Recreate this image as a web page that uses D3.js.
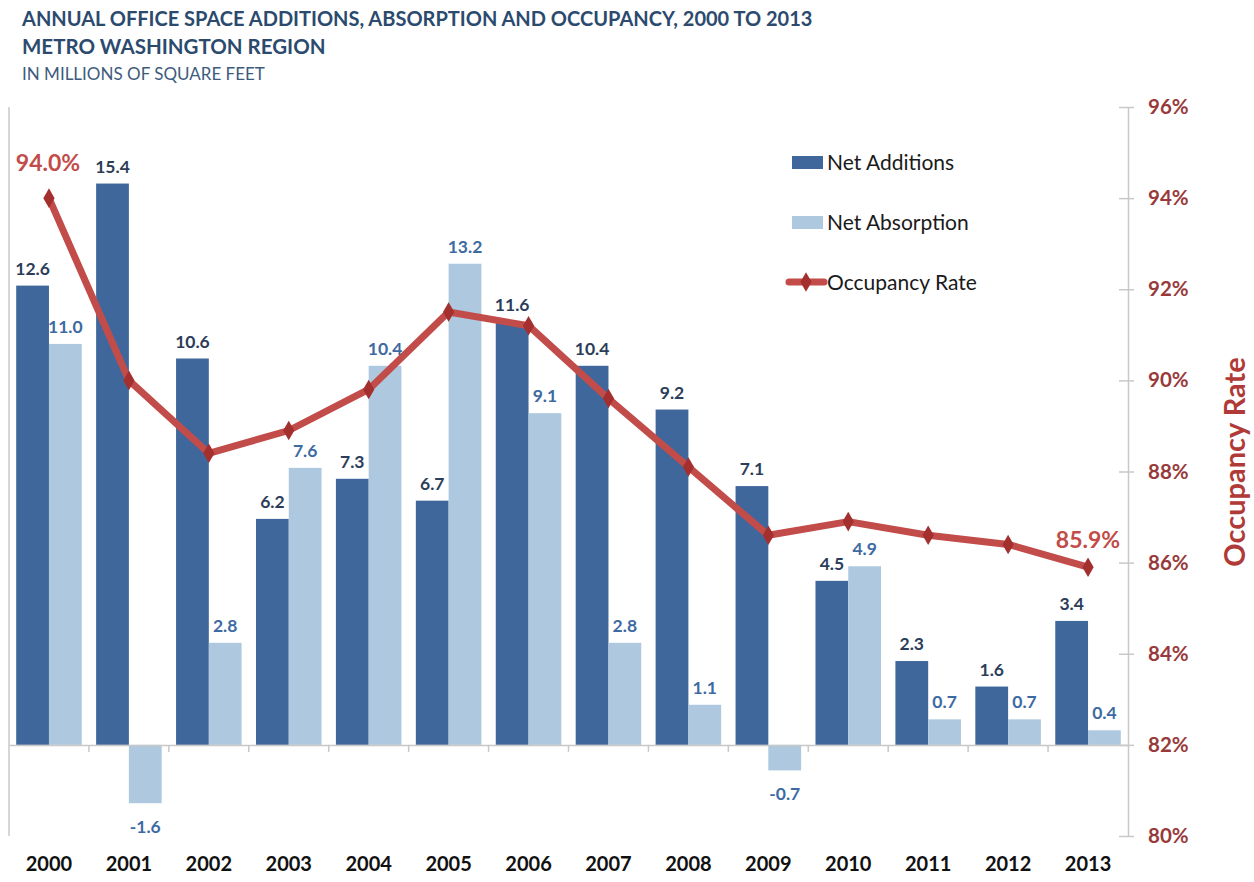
<!DOCTYPE html>
<html>
<head>
<meta charset="utf-8">
<script src="https://cdn.jsdelivr.net/npm/d3@7"></script>
<style>
  body { margin: 0; background: #fff; }
  text { font-family: Lato, "Open Sans", sans-serif; }
</style>
</head>
<body>
<div id="chart"></div>
<script>
// data
var years = ["2000", "2001", "2002", "2003", "2004", "2005", "2006", "2007", "2008", "2009", "2010", "2011", "2012", "2013"];
var netAdditions = [12.6, 15.4, 10.6, 6.2, 7.3, 6.7, 11.6, 10.4, 9.2, 7.1, 4.5, 2.3, 1.6, 3.4];
var netAbsorption = [11.0, -1.6, 2.8, 7.6, 10.4, 13.2, 9.1, 2.8, 1.1, -0.7, 4.9, 0.7, 0.7, 0.4];
var occupancy = [94.0, 90.0, 88.4, 88.9, 89.8, 91.5, 91.2, 89.6, 88.1, 86.6, 86.9, 86.6, 86.4, 85.9];
var rateTicks = [80, 82, 84, 86, 88, 90, 92, 94, 96];

var svgWidth = 1254;
var svgHeight = 882;
var plot = { left: 9, right: 1128, top: 107, bottom: 836 };

var svg = d3.select("#chart")
    .append("svg")
    .attr("width", svgWidth)
    .attr("height", svgHeight);

// titles
svg.append("text")
    .attr("x", 22).attr("y", 26)
    .attr("font-size", "20px").attr("font-weight", "bold")
    .attr("fill", "#2b4a6e")
    .text("ANNUAL OFFICE SPACE ADDITIONS, ABSORPTION AND OCCUPANCY, 2000 TO 2013");
svg.append("text")
    .attr("x", 22).attr("y", 54)
    .attr("font-size", "20.5px").attr("font-weight", "bold")
    .attr("fill", "#2b4a6e")
    .text("METRO WASHINGTON REGION");
svg.append("text")
    .attr("x", 22).attr("y", 80)
    .attr("font-size", "17px")
    .attr("fill", "#3e5b7d")
    .text("IN MILLIONS OF SQUARE FEET");

// scales
var x = d3.scaleBand()
    .domain(years)
    .range([plot.left, plot.right])
    .paddingInner(0.18)
    .paddingOuter(0.09);

var xSub = d3.scaleBand()
    .domain(["add", "abs"])
    .range([0, x.bandwidth()]);

var yLeft = d3.scaleLinear()
    .domain([-2.5, 17.5])
    .range([plot.bottom, plot.top]);

var yRight = d3.scaleLinear()
    .domain([80, 96])
    .range([plot.bottom, plot.top]);

var xCenter = d3.scaleBand().domain(years).range([plot.left, plot.right]);

// left axis line
svg.append("line")
    .attr("x1", plot.left).attr("x2", plot.left)
    .attr("y1", plot.top).attr("y2", plot.bottom)
    .attr("stroke", "#c8c8c8").attr("stroke-width", 1.5);

// bars
svg.selectAll(".add")
    .data(netAdditions)
    .enter()
    .append("rect")
    .attr("class", "add")
    .attr("x", (d, i) => x(years[i]) + xSub("add"))
    .attr("width", xSub.bandwidth())
    .attr("y", d => yLeft(Math.max(0, d)))
    .attr("height", d => Math.abs(yLeft(d) - yLeft(0)))
    .attr("fill", "#40679b");

svg.selectAll(".abs")
    .data(netAbsorption)
    .enter()
    .append("rect")
    .attr("class", "abs")
    .attr("x", (d, i) => x(years[i]) + xSub("abs"))
    .attr("width", xSub.bandwidth())
    .attr("y", d => yLeft(Math.max(0, d)))
    .attr("height", d => Math.abs(yLeft(d) - yLeft(0)))
    .attr("fill", "#adc8df");

// x axis
var xAxis = d3.axisBottom(xCenter).tickSize(0).tickPadding(0);
var xg = svg.append("g")
    .attr("transform", `translate(0, ${yLeft(0)})`)
    .call(xAxis);
xg.select(".domain").attr("stroke", "#c8c8c8").attr("stroke-width", 1.5);
xg.selectAll("text")
    .attr("y", 112)
    .attr("font-size", "20px")
    .attr("font-weight", "bold")
    .attr("fill", "#111");
svg.selectAll(".xtick")
    .data(years.slice(1))
    .enter()
    .append("line")
    .attr("x1", d => xCenter(d)).attr("x2", d => xCenter(d))
    .attr("y1", yLeft(0)).attr("y2", yLeft(0) + 7)
    .attr("stroke", "#c8c8c8").attr("stroke-width", 1.5);

// right axis
var rAxis = d3.axisRight(yRight)
    .tickValues(rateTicks)
    .tickSize(0)
    .tickFormat(d => d + "%");
var rg = svg.append("g")
    .attr("transform", `translate(${plot.right}, 0)`)
    .call(rAxis);
rg.select(".domain").attr("stroke", "#c8c8c8").attr("stroke-width", 1.5);
rg.selectAll("text")
    .attr("x", 20)
    .attr("font-size", "20.5px")
    .attr("font-weight", "bold")
    .attr("fill", "#983a3a");
rg.selectAll(".tick").append("line")
    .attr("x1", -9).attr("x2", 6)
    .attr("stroke", "#c8c8c8").attr("stroke-width", 1.5);

svg.append("text")
    .attr("transform", "translate(1245, 462) rotate(-90)")
    .attr("text-anchor", "middle")
    .attr("font-size", "29px")
    .attr("font-weight", "bold")
    .attr("fill", "#b03a38")
    .text("Occupancy Rate");

// occupancy line
var line = d3.line()
    .x((d, i) => xCenter(years[i]) + xCenter.bandwidth() / 2)
    .y(d => yRight(d));

svg.append("path")
    .datum(occupancy)
    .attr("d", line)
    .attr("fill", "none")
    .attr("stroke", "#c24c49")
    .attr("stroke-width", 7)
    .attr("stroke-linejoin", "round");

var diamond = d3.symbol().type(d3.symbolDiamond).size(110);
svg.selectAll(".marker")
    .data(occupancy)
    .enter()
    .append("path")
    .attr("d", diamond)
    .attr("transform", (d, i) => `translate(${xCenter(years[i]) + xCenter.bandwidth() / 2}, ${yRight(d)})`)
    .attr("fill", "#a3302e");

// bar labels
svg.selectAll(".addLabel")
    .data(netAdditions)
    .enter()
    .append("text")
    .attr("x", (d, i) => x(years[i]) + xSub("add") + xSub.bandwidth() / 2)
    .attr("y", d => d >= 0 ? yLeft(d) - 11 : yLeft(d) + 23)
    .attr("text-anchor", "middle")
    .attr("font-size", "17.5px")
    .attr("font-weight", "bold")
    .attr("fill", "#2c3d5a")
    .text(d => d.toFixed(1));

svg.selectAll(".absLabel")
    .data(netAbsorption)
    .enter()
    .append("text")
    .attr("x", (d, i) => x(years[i]) + xSub("abs") + xSub.bandwidth() / 2)
    .attr("y", d => d >= 0 ? yLeft(d) - 11 : yLeft(d) + 30)
    .attr("text-anchor", "middle")
    .attr("font-size", "17.5px")
    .attr("font-weight", "bold")
    .attr("fill", "#3d6aa2")
    .text(d => d.toFixed(1));

// first and last occupancy labels
svg.append("text")
    .attr("x", 48).attr("y", 171)
    .attr("text-anchor", "middle")
    .attr("font-size", "23px")
    .attr("font-weight", "bold")
    .attr("fill", "#c24c49")
    .text(occupancy[0].toFixed(1) + "%");
svg.append("text")
    .attr("x", 1088).attr("y", 548)
    .attr("text-anchor", "middle")
    .attr("font-size", "23px")
    .attr("font-weight", "bold")
    .attr("fill", "#c24c49")
    .text(occupancy[occupancy.length - 1].toFixed(1) + "%");

// legend
var legend = svg.append("g");
legend.append("rect")
    .attr("x", 792).attr("y", 156).attr("width", 31).attr("height", 13)
    .attr("fill", "#40679b");
legend.append("rect")
    .attr("x", 792).attr("y", 216).attr("width", 31).attr("height", 13)
    .attr("fill", "#adc8df");
legend.append("line")
    .attr("x1", 789).attr("x2", 824)
    .attr("y1", 282).attr("y2", 282)
    .attr("stroke", "#c24c49").attr("stroke-width", 7)
    .attr("stroke-linecap", "round");
legend.append("path")
    .attr("d", diamond)
    .attr("transform", "translate(806, 282)")
    .attr("fill", "#a3302e");
var legendNames = ["Net Additions", "Net Absorption", "Occupancy Rate"];
legend.selectAll(".ltext")
    .data(legendNames)
    .enter()
    .append("text")
    .attr("x", 827)
    .attr("y", (d, i) => 170 + i * 60)
    .attr("font-size", "21px")
    .attr("fill", "#1a1a1a")
    .text(d => d);
</script>
</body>
</html>
